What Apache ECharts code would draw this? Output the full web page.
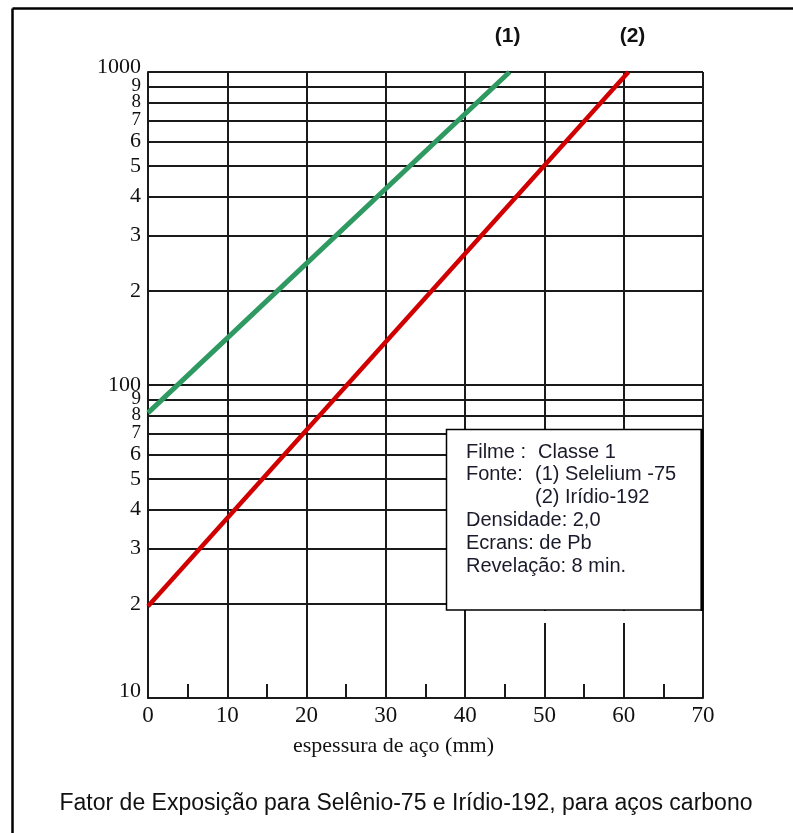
<!DOCTYPE html>
<html><head><meta charset="utf-8">
<script src="https://cdn.jsdelivr.net/npm/echarts@6/dist/echarts.min.js"></script>
<style>html,body{margin:0;padding:0;background:#fff}#c{width:793px;height:833px}</style>
</head><body><div id="c"></div>
<script>
// ---- data ----
const thicknessSe = [0, 45.6];          // mm, curve (1) Selelium-75
const factorSe    = [81.5, 1000];       // exposure factor
const thicknessIr = [0, 60.6];          // mm, curve (2) Irídio-192
const factorIr    = [19.65, 1000];
const curveTags   = ['(1)', '(2)'];
const xMin = 0, xMax = 70, xStep = 10;
const yMin = 10, yMax = 1000;
const yGridValues = [10,20,30,40,50,60,70,80,90,100,200,300,400,500,600,700,800,900,1000];
const xName = 'espessura de aço (mm)';
const boxLabels = ['Filme :', 'Fonte:', 'Densidade: 2,0', 'Ecrans: de Pb', 'Revelação: 8 min.'];
const boxValues = ['Classe 1', '(1) Selelium -75', '(2) Irídio-192'];
const caption = 'Fator de Exposição para Selênio-75 e Irídio-192, para aços carbono';

const LINE = '#1a1a1a';
const SERIF = 'Liberation Serif';
const SANS = 'Liberation Sans';

function yLabel(v) {
  if (v >= yMax - 0.5) return '';                 // drawn separately, shifted up
  const p = Math.pow(10, Math.floor(Math.log10(v) + 1e-9));
  const d = Math.round(v / p);
  if (v <= 10.5) return '{lo|' + Math.round(v) + '}\n{zl|}';
  if (d === 1) return '{b|' + Math.round(v) + '}';
  return (d >= 7 ? '{s|' : '{b|') + d + '}';
}

const chart = echarts.init(document.getElementById('c'), null, {renderer: 'canvas'});
const option = {
  animation: false,
  backgroundColor: '#fff',
  grid: {left: 148, right: 90, top: 72, bottom: 135, containLabel: false},
  xAxis: {
    type: 'value', min: xMin, max: xMax, interval: xStep,
    name: xName, nameLocation: 'middle', nameGap: 37,
    nameTextStyle: {fontFamily: SERIF, fontSize: 22, color: '#111', padding: [0, 64, 0, 0]},
    axisLine: {show: true, lineStyle: {color: LINE, width: 2}},
    axisTick: {show: false, inside: true},
    minorTick: {show: true, splitNumber: 2, length: 14, lineStyle: {color: LINE, width: 2}},
    axisLabel: {fontFamily: SERIF, fontSize: 23, color: '#111', margin: 6},
    splitLine: {show: true, lineStyle: {color: LINE, width: 2}}
  },
  yAxis: {
    type: 'log', logBase: 10, min: yMin, max: yMax,
    axisLine: {show: true, onZero: false, lineStyle: {color: LINE, width: 2}},
    axisTick: {show: false, customValues: yGridValues},
    axisLabel: {
      customValues: yGridValues, formatter: yLabel, margin: 7, color: '#111', fontFamily: SERIF,
      showMinLabel: true, hideOverlap: false,
      rich: {
        b: {fontSize: 22, lineHeight: 16, fontFamily: SERIF, color: '#111'},
        s: {fontSize: 19, lineHeight: 9, fontFamily: SERIF, color: '#111'},
        lo: {fontSize: 22, lineHeight: 10, fontFamily: SERIF, color: '#111'},
        zl: {fontSize: 10, lineHeight: 14}
      }
    },
    splitLine: {show: true, lineStyle: {color: LINE, width: 2}}
  },
  series: [
    {
      name: 'Selelium-75', type: 'line', symbol: 'none', clip: false, z: 3,
      lineStyle: {color: '#2e9960', width: 5},
      data: thicknessSe.map((x, i) => [x, factorSe[i]])
    },
    {
      name: 'Irídio-192', type: 'line', symbol: 'none', clip: false, z: 3,
      lineStyle: {color: '#d10000', width: 4.5},
      data: thicknessIr.map((x, i) => [x, factorIr[i]])
    }
  ]
};
chart.setOption(option);

// positions via the chart's scales
const endSe = chart.convertToPixel({gridIndex: 0}, [thicknessSe[1], factorSe[1]]);
const endIr = chart.convertToPixel({gridIndex: 0}, [thicknessIr[1], factorIr[1]]);
const topLeft = chart.convertToPixel({gridIndex: 0}, [xMin, yMax]);

const boxText = (t, x, y) => ({
  type: 'text', z: 101, x: x, y: y,
  style: {text: t, fontFamily: SANS, fontSize: 20, fill: '#1a1a2a', verticalAlign: 'middle', align: 'left'}
});
const rowY = [452, 474.5, 497.3, 520, 543, 566];

chart.setOption({
  graphic: [
    // page frame
    {type: 'line', z: 100, shape: {x1: 12.5, y1: 8.5, x2: 793, y2: 8.5}, style: {stroke: '#000', lineWidth: 2.5}},
    {type: 'line', z: 100, shape: {x1: 12.5, y1: 8.5, x2: 12.5, y2: 833}, style: {stroke: '#000', lineWidth: 2.5}},
    // top y label (1000)
    {type: 'text', z: 100, x: topLeft[0] - 7, y: topLeft[1] - 5, style: {text: String(yMax), fontFamily: SERIF, fontSize: 22, fill: '#111', align: 'right', verticalAlign: 'middle'}},
    // curve tags
    {type: 'text', z: 100, x: endSe[0] - 2, y: 36, style: {text: curveTags[0], fontFamily: SANS, fontWeight: 'bold', fontSize: 21, fill: '#111', align: 'center', verticalAlign: 'middle'}},
    {type: 'text', z: 100, x: endIr[0] + 4, y: 36, style: {text: curveTags[1], fontFamily: SANS, fontWeight: 'bold', fontSize: 21, fill: '#111', align: 'center', verticalAlign: 'middle'}},
    // gap under the info box
    {type: 'rect', z: 99, shape: {x: 530, y: 611, width: 110, height: 12}, style: {fill: '#fff'}},
    // info box
    {type: 'rect', z: 100, shape: {x: 446.5, y: 429.5, width: 255, height: 180.5}, style: {fill: '#fff', stroke: '#000', lineWidth: 1.5}},
    {type: 'line', z: 100, shape: {x1: 702, y1: 429, x2: 702, y2: 611}, style: {stroke: '#000', lineWidth: 3}},
    boxText(boxLabels[0], 466, rowY[0]),
    boxText(boxValues[0], 538, rowY[0]),
    boxText(boxLabels[1], 466, rowY[1]),
    boxText(boxValues[1], 535, rowY[1]),
    boxText(boxValues[2], 535, rowY[2]),
    boxText(boxLabels[2], 466, rowY[3]),
    boxText(boxLabels[3], 466, rowY[4]),
    boxText(boxLabels[4], 466, rowY[5]),
    // caption
    {type: 'text', z: 100, x: 406, y: 804, style: {text: caption, fontFamily: SANS, fontSize: 23, fill: '#111', align: 'center', verticalAlign: 'middle'}}
  ]
});
</script>
</body></html>
